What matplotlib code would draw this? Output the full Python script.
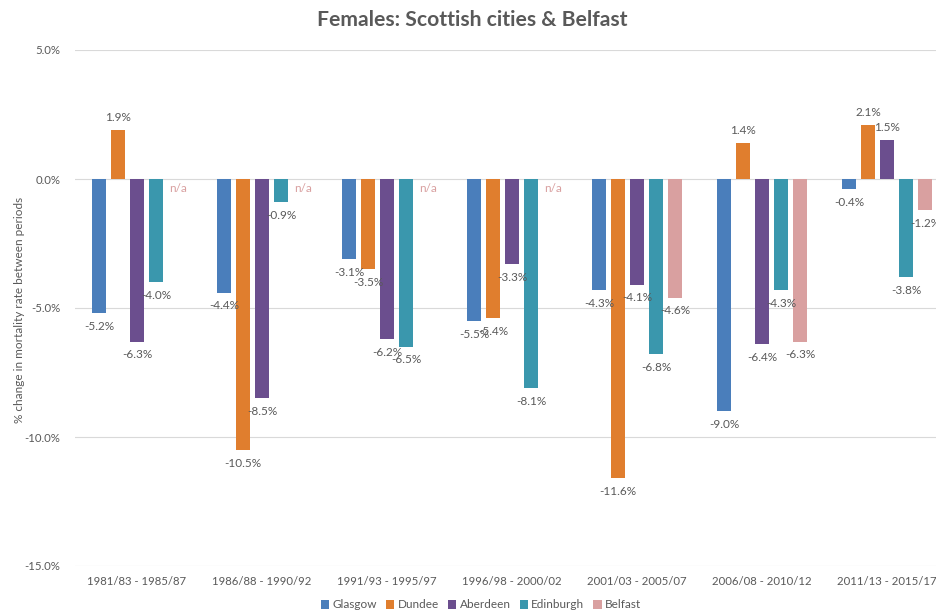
import matplotlib
matplotlib.use("Agg")
import matplotlib.pyplot as plt
import numpy as np

periods = ["1981/83 - 1985/87", "1986/88 - 1990/92", "1991/93 - 1995/97",
           "1996/98 - 2000/02", "2001/03 - 2005/07", "2006/08 - 2010/12",
           "2011/13 - 2015/17"]
series_names = ["Glasgow", "Dundee", "Aberdeen", "Edinburgh", "Belfast"]
glasgow = [-5.2, -4.4, -3.1, -5.5, -4.3, -9.0, -0.4]
dundee = [1.9, -10.5, -3.5, -5.4, -11.6, 1.4, 2.1]
aberdeen = [-6.3, -8.5, -6.2, -3.3, -4.1, -6.4, 1.5]
edinburgh = [-4.0, -0.9, -6.5, -8.1, -6.8, -4.3, -3.8]
belfast = [None, None, None, None, -4.6, -6.3, -1.2]
yticks = [5, 0, -5, -10, -15]

colors = ["#4a7ebb", "#e07e2e", "#6b4e8e", "#3a97ad", "#d9a0a0"]
text_color = "#595959"
font = ["Lato", "DejaVu Sans"]
plt.rcParams['font.family'] = font

fig = plt.figure(figsize=(9.36, 6.16), dpi=100)
ax = fig.add_axes([74.5/936, 50/616, 875/936, 516/616])

x = np.arange(len(periods))
step = 0.152
width = 0.116
all_series = [glasgow, dundee, aberdeen, edinburgh, belfast]
handles = []
for i, (name, vals, c) in enumerate(zip(series_names, all_series, colors)):
    xs = x + (i - 2) * step
    v = np.array([np.nan if a is None else a for a in vals], dtype=float)
    h = ax.bar(xs, np.nan_to_num(v, nan=0.0), width=width, color=c, label=name, zorder=3)
    handles.append(h)
    for xi, vi in zip(xs, vals):
        if vi is None:
            ax.annotate("n/a", (xi, 0), xytext=(2, -6.5), textcoords="offset points",
                        ha="center", va="center", fontsize=8.5, color=c, zorder=5)
        else:
            off = 9 if vi > 0 else -9.5
            ax.annotate(f"{vi:.1f}%", (xi, vi), xytext=(0, off), textcoords="offset points",
                        ha="center", va="center", fontsize=8.5, color=text_color, zorder=5)

ax.set_xlim(-0.5, len(periods) - 0.5)
ax.set_ylim(-15, 5)
ax.set_yticks(yticks)
ax.set_yticklabels([f"{t:.1f}%" for t in yticks])
ax.set_xticks(x)
ax.set_xticklabels(periods)
ax.tick_params(axis="both", length=0, labelsize=8.2, colors=text_color)
ax.tick_params(axis="y", pad=10)
ax.tick_params(axis="x", pad=7)
ax.grid(axis="y", color="#d9d9d9", linewidth=0.8, zorder=0)
for s in ax.spines.values():
    s.set_visible(False)

fig.text(20/936, 1 - 310/616, "% change in mortality rate between periods", rotation=90,
         ha="center", va="center", fontsize=8.5, color=text_color)

fig.text(472/936, 1 - 20/616, "Females: Scottish cities & Belfast", ha="center", va="center",
         fontsize=15.2, fontweight="bold", color=text_color)

leg = fig.legend(handles=handles, labels=series_names, loc="center", bbox_to_anchor=(481/936, 1 - 605/616),
                 ncol=5, frameon=False, fontsize=8.5, handlelength=0.7, handleheight=0.7,
                 handletextpad=0.3, columnspacing=0.75, labelcolor=text_color)

fig.savefig("out.png", dpi=100)
